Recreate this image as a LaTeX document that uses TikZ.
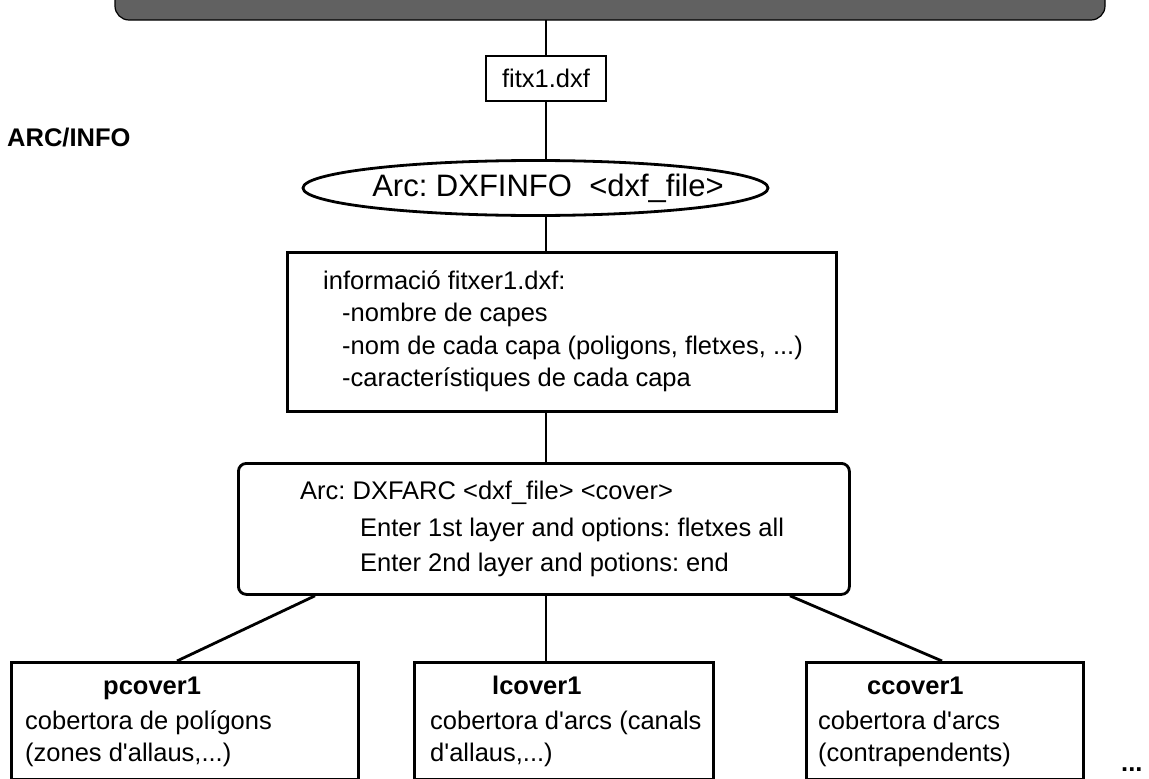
\documentclass[tikz,border=0pt]{standalone}
\usepackage{fontspec}
\setmainfont{Liberation Sans}
\usetikzlibrary{shapes.geometric}
\frenchspacing
\newcommand{\ap}{\textquotesingle}
\begin{document}
\begin{tikzpicture}[x=1pt,y=-1pt,
  body/.style={font=\fontsize{25.5}{30}\selectfont, inner sep=0pt},
  bodybold/.style={font=\fontsize{25.5}{30}\selectfont\bfseries, inner sep=0pt},
  frame/.style={draw, line width=2.8pt, rectangle, inner sep=0pt, anchor=north west},
  link/.style={draw, line width=2.8pt},
]
\useasboundingbox (0,0) rectangle (1149,779);

% shaded band along the top edge
\path[fill=black!62, draw=black, line width=1.2pt, rounded corners=14]
  (115,-40) rectangle (1105,20);
\coordinate (bandfoot) at (546,20);

% side label
\node[bodybold, anchor=west] (arcinfo) at (7,138) {ARC/INFO};

% input file
\node[draw, line width=2.8pt, body, minimum width=120, minimum height=45] (fitx) at (546,78.5) {fitx1.dxf};

% DXFINFO command
\node[draw, line width=2.8pt, ellipse, minimum width=465, minimum height=55, inner sep=0pt] (dxfinfo) at (535.5,188) {};
\node[font=\fontsize{31}{36}\selectfont, inner sep=0pt] (dxfinfotxt) at (548,188) {Arc: DXFINFO\ \ <dxf\_file>};

% information box
\node[frame, minimum width=549, minimum height=159] (info) at (286,251) {};
\node[body, anchor=base west] (info1) at (323,289) {informació fitxer1.dxf:};
\node[body, anchor=base west] (info2) at (342,321) {-nombre de capes};
\node[body, anchor=base west] (info3) at (342,354) {-nom de cada capa (poligons, fletxes, ...)};
\node[body, anchor=base west] (info4) at (342,386) {-característiques de cada capa};

% DXFARC command box
\node[frame, rounded corners=8, minimum width=611, minimum height=131] (dxfarc) at (237,462) {};
\node[body, anchor=base west] (arc1) at (300,499) {Arc: DXFARC <dxf\_file> <cover>};
\node[body, anchor=base west] (arc2) at (360,536) {Enter 1st layer and options: fletxes all};
\node[body, anchor=base west] (arc3) at (360,571) {Enter 2nd layer and potions: end};

% resulting covers
\node[frame, minimum width=347, minimum height=117] (pcover) at (10,661) {};
\node[bodybold, anchor=base west] (ptitle) at (103,694) {pcover1};
\node[body, anchor=base west] (pl1) at (25,729) {cobertora de polígons};
\node[body, anchor=base west] (pl2) at (25,761) {(zones d\ap allaus,...)};

\node[frame, minimum width=299, minimum height=117] (lcover) at (413,661) {};
\node[bodybold, anchor=base west] (ltitle) at (492,694) {lcover1};
\node[body, anchor=base west] (ll1) at (430,729) {cobertora d\ap arcs (canals};
\node[body, anchor=base west] (ll2) at (430,761) {d\ap allaus,...)};

\node[frame, minimum width=277, minimum height=117] (ccover) at (805,661) {};
\node[bodybold, anchor=base west] (ctitle) at (867,694) {ccover1};
\node[body, anchor=base west] (cl1) at (818,729) {cobertora d\ap arcs};
\node[body, anchor=base west] (cl2) at (818,761) {(contrapendents)};

\node[bodybold, anchor=base west] (more) at (1121,771) {...};

% connectors
\draw[link] (bandfoot) -- (fitx.north);
\draw[link] (fitx.south) -- (dxfinfo.north -| fitx.south);
\draw[link] (dxfinfo.south -| fitx.south) -- (info.north -| fitx.south);
\draw[link] (info.south -| fitx.south) -- (dxfarc.north -| fitx.south);
\draw[link] (dxfarc.south -| fitx.south) -- (lcover.north -| fitx.south);
\draw[link] ([xshift=78pt]dxfarc.south west) -- ([xshift=167pt]pcover.north west);
\draw[link] ([xshift=553pt]dxfarc.south west) -- ([xshift=137pt]ccover.north west);
\end{tikzpicture}
\end{document}
